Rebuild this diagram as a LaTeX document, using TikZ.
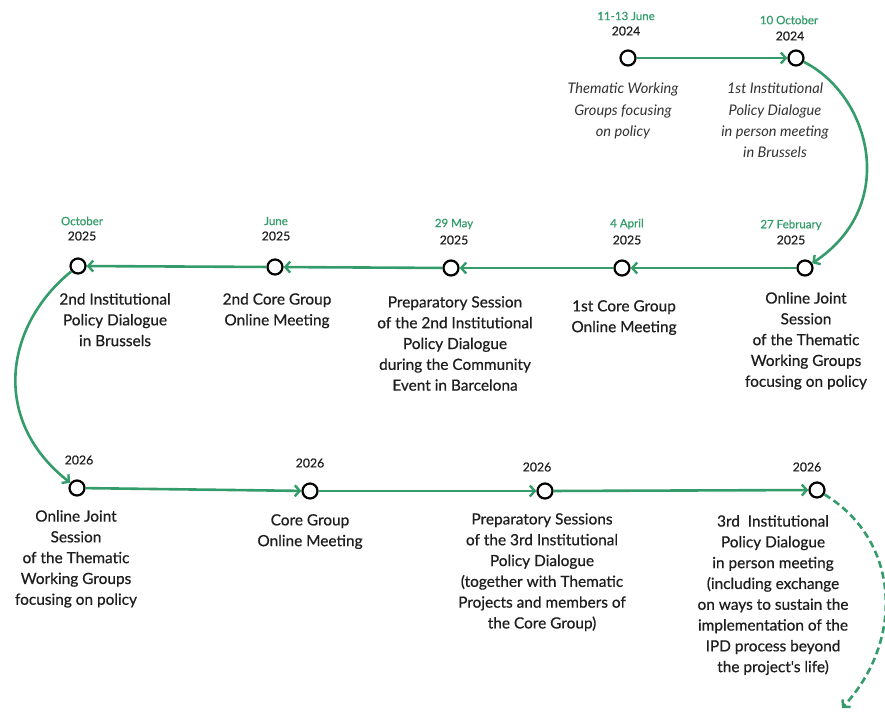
\documentclass[tikz,border=0pt]{standalone}
\usepackage{fontspec}
\setmainfont{Lato}
\newfontfamily\medfont{Lato}[FakeBold=0.6]
\usetikzlibrary{arrows.meta}
\definecolor{tgreen}{RGB}{52,156,106}
\definecolor{ttext}{RGB}{30,30,30}
\definecolor{itext}{RGB}{50,50,50}
\begin{document}
\begin{tikzpicture}[x=1pt,y=-1pt,
  ev/.style={circle,draw=black,line width=2.2pt,fill=white,minimum size=15pt,inner sep=0pt},
  conn/.style={draw=tgreen,line width=2.6pt,-{Straight Barb[length=5pt,width=11pt,line width=2.4pt]}},
  dconn/.style={conn,dash pattern=on 7pt off 4pt},
  dt/.style={text=tgreen,inner sep=0pt,font=\medfont\fontsize{11.5}{12}\selectfont},
  yr/.style={text=ttext,inner sep=0pt,font=\medfont\fontsize{12.3}{13}\selectfont},
  desc/.style={align=center,text=ttext,inner sep=0pt,anchor=north,font=\medfont\fontsize{15.4}{20.8}\selectfont},
  idesc/.style={align=center,text=itext,inner sep=0pt,anchor=north,font=\fontsize{14.6}{21.2}\selectfont\itshape}]
\useasboundingbox (0,0) rectangle (885,713);

% ---- row 1
\node[dt] (d1) at (626,16) {11-13 June};
\node[yr] (y1) at (626,31) {2024};
\node[dt] (d2) at (789,20) {10 October};
\node[yr] (y2) at (790,36) {2024};
\node[ev] (a1) at (628,58) {};
\node[ev] (a2) at (796,58) {};
\node[idesc] (t1) at (623,83) {Thematic Working\\Groups focusing\\on policy};
\node[idesc] (t2) at (775,83) {1st Institutional\\Policy Dialogue\\in person meeting\\in Brussels};

% ---- row 2
\node[dt] (d3) at (791,225) {27 February};
\node[yr] (y3) at (791,240) {2025};
\node[dt] (d4) at (627,224) {4 April};
\node[yr] (y4) at (627,240) {2025};
\node[dt] (d5) at (454,224) {29 May};
\node[yr] (y5) at (454,240) {2025};
\node[dt] (d6) at (276,221) {June};
\node[yr] (y6) at (276,236) {2025};
\node[dt] (d7) at (82,221) {October};
\node[yr] (y7) at (82,236) {2025};
\node[ev] (b1) at (805,268) {};
\node[ev] (b2) at (622,268) {};
\node[ev] (b3) at (451,268) {};
\node[ev] (b4) at (275,267) {};
\node[ev] (b5) at (78,266) {};
\node[desc] (t3) at (806,292) {Online Joint\\Session\\of the Thematic\\Working Groups\\focusing on policy};
\node[desc] (t4) at (624,300) {1st Core Group\\Online Meeting};
\node[desc] (t5) at (455,296) {Preparatory Session\\of the 2nd Institutional\\Policy Dialogue\\during the Community\\Event in Barcelona};
\node[desc] (t6) at (277,293) {2nd Core Group\\Online Meeting};
\node[desc] (t7) at (115,293) {2nd Institutional\\Policy Dialogue\\in Brussels};

% ---- row 3
\node[yr] (y8) at (79,460) {2026};
\node[yr] (y9) at (310,463) {2026};
\node[yr] (y10) at (537,467) {2026};
\node[yr] (y11) at (807,467) {2026};
\node[ev] (c1) at (77,488) {};
\node[ev] (c2) at (310,491) {};
\node[ev] (c3) at (545,491) {};
\node[ev] (c4) at (817,490) {};
\coordinate (cend) at (842,708);
\node[desc] (t8) at (76,510) {Online Joint\\Session\\of the Thematic\\Working Groups\\focusing on policy};
\node[desc] (t9) at (310,514) {Core Group\\Online Meeting};
\node[desc] (t10) at (542,513) {Preparatory Sessions\\of the 3rd Institutional\\Policy Dialogue\\(together with Thematic\\Projects and members of\\the Core Group)};
\node[desc] (t11) at (773,515) {3rd~ Institutional\\Policy Dialogue\\in person meeting\\(including exchange\\on ways to sustain the\\implementation of the\\IPD process beyond\\the project's life)};

% ---- connectors
\draw[conn] (a1) -- (a2);
\draw[conn] (a2) .. controls (870,95) and (900,205) .. (b1);
\draw[conn] (b1) -- (b2);
\draw[conn] (b2) -- (b3);
\draw[conn] (b3) -- (b4);
\draw[conn] (b4) -- (b5);
\draw[conn] (b5) .. controls (5,325) and (-10,420) .. (c1);
\draw[conn] (c1) -- (c2);
\draw[conn] (c2) -- (c3);
\draw[conn] (c3) -- (c4);
\draw[dconn] (c4) .. controls (900,540) and (905,640) .. (cend);
\end{tikzpicture}
\end{document}
